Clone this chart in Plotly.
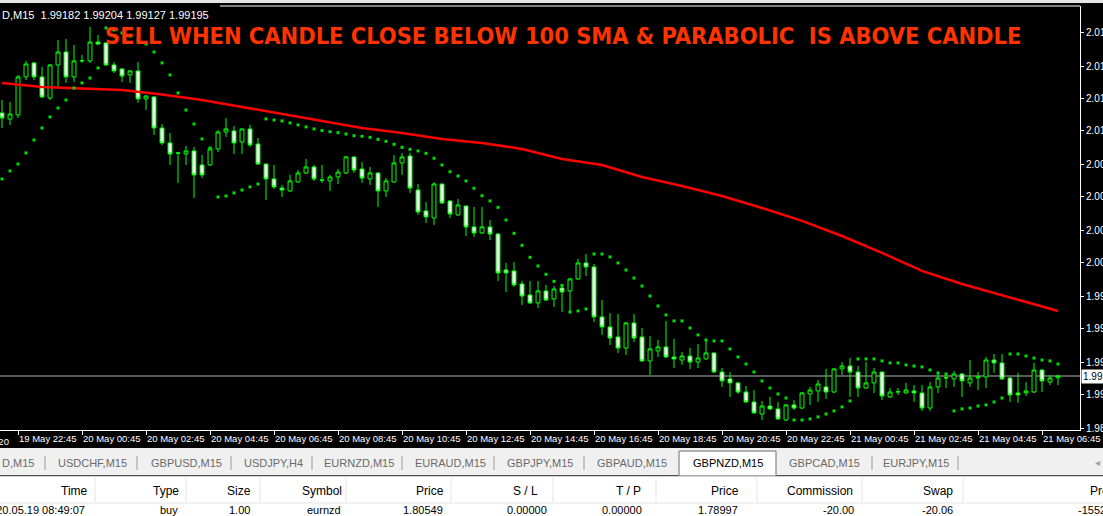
import plotly.graph_objects as go

# ---------------- data (GBPNZD, M15) ----------------
open_ = [
    2.01168, 2.01122, 2.01153, 2.01438, 2.01543, 2.01438, 2.01280, 2.01528, 2.01625, 2.01438,
    2.01558, 2.01558, 2.01700, 2.01693, 2.01528, 2.01498, 2.01453, 2.01483, 2.01273, 2.01288,
    2.01055, 2.00943, 2.00868, 2.00860, 2.00883, 2.00778, 2.00778, 2.00898, 2.01025, 2.01033,
    2.00950, 2.01048, 2.00935, 2.00785, 2.00673, 2.00605, 2.00583, 2.00650, 2.00718, 2.00763,
    2.00665, 2.00658, 2.00688, 2.00718, 2.00838, 2.00748, 2.00673, 2.00718, 2.00583, 2.00650,
    2.00793, 2.00845, 2.00590, 2.00433, 2.00380, 2.00635, 2.00508, 2.00403, 2.00470, 2.00313,
    2.00268, 2.00313, 2.00260, 1.99990, 1.99983, 1.99885, 1.99803, 1.99743, 1.99833, 1.99773,
    1.99855, 1.99833, 1.99923, 2.00043, 2.00013, 1.99638, 1.99563, 1.99488, 1.99405, 1.99593,
    1.99488, 1.99308, 1.99383, 1.99413, 1.99338, 1.99315, 1.99345, 1.99300, 1.99323, 1.99368,
    1.99225, 1.99173, 1.99143, 1.99075, 1.99000, 1.98910, 1.98970, 1.98948, 1.98865, 1.98978,
    1.98955, 1.99060, 1.99083, 1.99113, 1.99075, 1.99248, 1.99270, 1.99225, 1.99105, 1.99143,
    1.99225, 1.99038, 1.99075, 1.99068, 1.99083, 1.99068, 1.98955, 1.99113, 1.99180, 1.99173,
    1.99210, 1.99143, 1.99180, 1.99188, 1.99315, 1.99293, 1.99180, 1.99068, 1.99068, 1.99075,
    1.99240, 1.99150, 1.99182]
high = [
    2.01265, 2.01250, 2.01453, 2.01558, 2.01550, 2.01513, 2.01535, 2.01715, 2.01723, 2.01678,
    2.01603, 2.01813, 2.01753, 2.01695, 2.01550, 2.01505, 2.01490, 2.01550, 2.01303, 2.01295,
    2.01085, 2.01018, 2.00875, 2.00920, 2.00913, 2.00853, 2.00913, 2.01040, 2.01130, 2.01070,
    2.01050, 2.01078, 2.00980, 2.00788, 2.00778, 2.00628, 2.00703, 2.00740, 2.00823, 2.00778,
    2.00778, 2.00703, 2.00748, 2.00845, 2.00840, 2.00800, 2.00763, 2.00720, 2.00680, 2.00853,
    2.00868, 2.00870, 2.00635, 2.00500, 2.00650, 2.00637, 2.00510, 2.00523, 2.00472, 2.00463,
    2.00463, 2.00365, 2.00268, 2.00043, 2.00050, 1.99908, 1.99908, 1.99908, 1.99878, 1.99870,
    1.99885, 1.99930, 2.00073, 2.00110, 2.00035, 1.99765, 1.99668, 1.99660, 1.99600, 1.99660,
    1.99555, 1.99495, 1.99465, 1.99608, 1.99473, 1.99375, 1.99405, 1.99435, 1.99465, 1.99370,
    1.99255, 1.99225, 1.99150, 1.99120, 1.99090, 1.99008, 1.99038, 1.99000, 1.98985, 1.99015,
    1.99075, 1.99113, 1.99165, 1.99248, 1.99255, 1.99300, 1.99330, 1.99270, 1.99300, 1.99255,
    1.99228, 1.99105, 1.99105, 1.99143, 1.99128, 1.99128, 1.99150, 1.99225, 1.99218, 1.99233,
    1.99218, 1.99315, 1.99225, 1.99338, 1.99360, 1.99360, 1.99188, 1.99218, 1.99150, 1.99293,
    1.99248, 1.99203, 1.99204]
low = [
    2.01055, 2.01078, 2.01130, 2.01415, 2.01415, 2.01280, 2.01265, 2.01363, 2.01393, 2.01400,
    2.01543, 2.01543, 2.01678, 2.01520, 2.01468, 2.01400, 2.01393, 2.01243, 2.01190, 2.01003,
    2.00928, 2.00778, 2.00643, 2.00778, 2.00530, 2.00680, 2.00770, 2.00875, 2.00988, 2.00860,
    2.00860, 2.00913, 2.00778, 2.00515, 2.00598, 2.00538, 2.00575, 2.00643, 2.00710, 2.00658,
    2.00643, 2.00583, 2.00635, 2.00710, 2.00718, 2.00643, 2.00628, 2.00463, 2.00538, 2.00643,
    2.00703, 2.00568, 2.00403, 2.00343, 2.00328, 2.00485, 2.00380, 2.00395, 2.00245, 2.00238,
    2.00260, 2.00215, 1.99908, 1.99825, 1.99863, 1.99728, 1.99735, 1.99705, 1.99758, 1.99713,
    1.99675, 1.99675, 1.99915, 1.99945, 1.99600, 1.99503, 1.99428, 1.99368, 1.99353, 1.99450,
    1.99300, 1.99203, 1.99338, 1.99330, 1.99255, 1.99278, 1.99248, 1.99255, 1.99315, 1.99218,
    1.99113, 1.99038, 1.99060, 1.98993, 1.98910, 1.98865, 1.98940, 1.98865, 1.98858, 1.98940,
    1.98948, 1.98978, 1.99000, 1.99023, 1.99068, 1.99203, 1.99038, 1.99038, 1.99098, 1.99068,
    1.99015, 1.99030, 1.99053, 1.99060, 1.99000, 1.98933, 1.98933, 1.99068, 1.99105, 1.99113,
    1.99038, 1.99113, 1.99090, 1.99105, 1.99218, 1.99165, 1.99000, 1.98993, 1.99045, 1.99068,
    1.99075, 1.99128, 1.99127]
close = [
    2.01130, 2.01160, 2.01438, 2.01535, 2.01438, 2.01288, 2.01528, 2.01625, 2.01438, 2.01558,
    2.01560, 2.01700, 2.01685, 2.01528, 2.01483, 2.01445, 2.01483, 2.01273, 2.01295, 2.01055,
    2.00943, 2.00860, 2.00866, 2.00883, 2.00703, 2.00703, 2.00898, 2.01025, 2.01048, 2.00943,
    2.01048, 2.00928, 2.00785, 2.00673, 2.00613, 2.00590, 2.00658, 2.00718, 2.00763, 2.00673,
    2.00663, 2.00688, 2.00725, 2.00838, 2.00740, 2.00680, 2.00718, 2.00583, 2.00658, 2.00793,
    2.00838, 2.00605, 2.00425, 2.00388, 2.00635, 2.00493, 2.00410, 2.00478, 2.00313, 2.00268,
    2.00313, 2.00260, 1.99968, 1.99968, 1.99878, 1.99795, 1.99743, 1.99833, 1.99765, 1.99848,
    1.99825, 1.99923, 2.00043, 2.00013, 1.99638, 1.99563, 1.99480, 1.99405, 1.99593, 1.99480,
    1.99308, 1.99398, 1.99413, 1.99338, 1.99323, 1.99345, 1.99300, 1.99330, 1.99368, 1.99225,
    1.99158, 1.99143, 1.99075, 1.99000, 1.98918, 1.98970, 1.98948, 1.98873, 1.98978, 1.98955,
    1.99068, 1.99090, 1.99135, 1.99075, 1.99248, 1.99270, 1.99225, 1.99105, 1.99143, 1.99225,
    1.99045, 1.99075, 1.99077, 1.99090, 1.99068, 1.98955, 1.99113, 1.99180, 1.99182, 1.99210,
    1.99158, 1.99180, 1.99188, 1.99315, 1.99293, 1.99173, 1.99053, 1.99053, 1.99083, 1.99240,
    1.99158, 1.99180, 1.99195]
sar = [
    2.00673, 2.00733, 2.00785, 2.00868, 2.00965, 2.01055, 2.01138, 2.01205, 2.01265, 2.01355,
    2.01393, 2.01430, 2.01505, 2.01805, 2.01790, 2.01768, 2.01745, 2.01715, 2.01685, 2.01625,
    2.01543, 2.01453, 2.01318, 2.01190, 2.01085, 2.00973, 2.00905, 2.00538, 2.00545, 2.00568,
    2.00590, 2.00613, 2.00635, 2.01123, 2.01115, 2.01108, 2.01093, 2.01078, 2.01063, 2.01048,
    2.01036, 2.01027, 2.01020, 2.01010, 2.00997, 2.00993, 2.00985, 2.00970, 2.00955, 2.00933,
    2.00910, 2.00895, 2.00883, 2.00865, 2.00828, 2.00778, 2.00727, 2.00695, 2.00658, 2.00603,
    2.00547, 2.00508, 2.00460, 2.00365, 2.00265, 2.00175, 2.00085, 2.00020, 1.99958, 1.99905,
    1.99875, 1.99675, 1.99683, 1.99698, 2.00110, 2.00110, 2.00088, 2.00043, 1.99990, 1.99930,
    1.99870, 1.99795, 1.99720, 1.99653, 1.99608, 1.99608, 1.99555, 1.99503, 1.99465, 1.99458,
    1.99458, 1.99398, 1.99338, 1.99285, 1.99225, 1.99158, 1.99105, 1.99060, 1.99030, 1.98865,
    1.98865, 1.98873, 1.98888, 1.98910, 1.98933, 1.98963, 1.99008, 1.99323, 1.99323, 1.99323,
    1.99308, 1.99293, 1.99293, 1.99278, 1.99270, 1.99263, 1.99240, 1.99218, 1.99210, 1.98933,
    1.98948, 1.98955, 1.98970, 1.98978, 1.99000, 1.99030, 1.99360, 1.99360, 1.99345, 1.99330,
    1.99315, 1.99308, 1.99285]
sma_idx = [0, 5, 10, 15, 20, 25, 30, 35, 40, 45, 50, 55, 60, 65, 70, 75, 80, 85, 90, 95,
           100, 105, 110, 115, 120, 125, 130, 132]
sma100 = [2.01393, 2.01363, 2.01351, 2.01340, 2.01306, 2.01265, 2.01213, 2.01160, 2.01108,
          2.01055, 2.01018, 2.00973, 2.00943, 2.00898, 2.00823, 2.00778, 2.00688, 2.00620,
          2.00545, 2.00455, 2.00358, 2.00245, 2.00118, 1.99983, 1.99885, 1.99803, 1.99720,
          1.99683]
time_tick_idx = [2, 10, 18, 26, 34, 42, 50, 58, 66, 74, 82, 90, 98, 106, 114, 122, 130]
time_tick_text = ["19 May 22:45", "20 May 00:45", "20 May 02:45", "20 May 04:45",
                  "20 May 06:45", "20 May 08:45", "20 May 10:45", "20 May 12:45",
                  "20 May 14:45", "20 May 16:45", "20 May 18:45", "20 May 20:45",
                  "20 May 22:45", "21 May 00:45", "21 May 02:45", "21 May 04:45",
                  "21 May 06:45"]
price_ticks = [2.01768, 2.01520, 2.01273, 2.01033, 2.00785, 2.00538, 2.00290, 2.00043,
               1.99795, 1.99548, 1.99300, 1.99053, 1.98805]
tabs = ["D,M15", "USDCHF,M15", "GBPUSD,M15", "USDJPY,H4", "EURNZD,M15", "EURAUD,M15",
        "GBPJPY,M15", "GBPAUD,M15", "GBPNZD,M15", "GBPCAD,M15", "EURJPY,M15"]
table_headers = ["Time", "Type", "Size", "Symbol", "Price", "S / L", "T / P", "Price",
                 "Commission", "Swap", "Profit"]
table_row = ["2020.05.19 08:49:07", "buy", "1.00", "eurnzd", "1.80549", "0.00000",
             "0.00000", "1.78997", "-20.00", "-20.06", "-1552"]
title_text = "SELL WHEN CANDLE CLOSE BELOW 100 SMA &amp; PARABOLIC&nbsp; IS ABOVE CANDLE"

# ---------------- layout helpers (pixel -> paper) ----------------
PW, PT, PB = 1080, 6, 430
def px(x):
    return x / PW
def py(y):
    return (PB - y) / (PB - PT)

idx = list(range(len(close)))
LIME = "#00FF00"

fig = go.Figure()
fig.add_trace(go.Candlestick(
    x=idx, open=open_, high=high, low=low, close=close,
    increasing=dict(line=dict(color=LIME, width=1), fillcolor="#000000"),
    decreasing=dict(line=dict(color=LIME, width=1), fillcolor="#FFFFFF"),
    whiskerwidth=0, hoverinfo="skip", showlegend=False))
fig.add_trace(go.Scatter(
    x=sma_idx, y=sma100, mode="lines", line=dict(color="#FF0000", width=2.5),
    hoverinfo="skip", showlegend=False))
fig.add_trace(go.Scatter(
    x=idx, y=sar, mode="markers",
    marker=dict(symbol="square", size=3, color="#00E000", line=dict(width=0)),
    hoverinfo="skip", showlegend=False))

shapes = []
annotations = []

# bid line + price tag
shapes.append(dict(type="line", xref="paper", yref="y", x0=0, x1=1, y0=close[-1], y1=close[-1],
                   line=dict(color="#B4B4B4", width=1), layer="below"))
annotations.append(dict(xref="paper", yref="y", x=px(1081), y=close[-1], xanchor="left",
                        yanchor="middle", text=f"{close[-1]:.5f}", showarrow=False,
                        bgcolor="#FFFFFF", borderpad=1,
                        font=dict(color="#000000", size=10, family="Liberation Sans")))

# top strip and frame line
shapes.append(dict(type="rect", xref="paper", yref="paper", x0=px(0), x1=px(1103),
                   y0=py(3), y1=py(-2), fillcolor="#E6E6E6", line=dict(width=0), layer="above"))
shapes.append(dict(type="line", xref="paper", yref="paper", x0=px(220), x1=px(1080),
                   y0=py(6), y1=py(6), line=dict(color="#FFFFFF", width=1), layer="above"))

# OHLC header text
annotations.append(dict(xref="paper", yref="paper", x=px(0), y=py(15), xanchor="left",
                        yanchor="middle", showarrow=False,
                        text=f"D,M15&nbsp; {open_[-1]:.5f} {high[-1]:.5f} {low[-1]:.5f} {close[-1]:.5f}",
                        font=dict(color="#FFFFFF", size=11, family="Liberation Sans")))

# title
annotations.append(dict(xref="paper", yref="paper", x=px(563), y=py(36), xanchor="center",
                        yanchor="middle", showarrow=False, text=f"<b>{title_text}</b>",
                        font=dict(color="#FF3300", size=23.4,
                                  family="Liberation Sans Narrow, DejaVu Sans Condensed, sans-serif")))

# first (date) label of the time scale
annotations.append(dict(xref="paper", yref="paper", x=px(11), y=py(441), xanchor="right",
                        yanchor="middle", showarrow=False, text="19 May 2020",
                        font=dict(color="#FFFFFF", size=9.5, family="Liberation Sans")))

# ---------- tab bar ----------
shapes.append(dict(type="rect", xref="paper", yref="paper", x0=px(0), x1=px(1110),
                   y0=py(475), y1=py(448), fillcolor="#F0F0F0", line=dict(width=0), layer="above"))
shapes.append(dict(type="rect", xref="paper", yref="paper", x0=px(679), x1=px(776),
                   y0=py(476), y1=py(451), fillcolor="#FFFFFF",
                   line=dict(color="#6E6E6E", width=1), layer="above"))
tab_x = [0, 56, 149, 242, 322, 413, 505, 595, 691, 787, 881]
for name, xl in zip(tabs, tab_x):
    annotations.append(dict(xref="paper", yref="paper", x=px(xl), y=py(463), xanchor="left",
                            yanchor="middle", showarrow=False, text=name,
                            font=dict(color="#000000" if name == "GBPNZD,M15" else "#6A6A6A",
                                      size=11, family="Liberation Sans")))
for xs in [45, 137, 231, 312, 402, 494, 584, 872, 958]:
    shapes.append(dict(type="line", xref="paper", yref="paper", x0=px(xs), x1=px(xs),
                       y0=py(470), y1=py(456), line=dict(color="#9A9A9A", width=1), layer="above"))
annotations.append(dict(xref="paper", yref="paper", x=px(1097), y=py(463), xanchor="center",
                        yanchor="middle", showarrow=False, text="◂",
                        font=dict(color="#A0A0A0", size=10, family="DejaVu Sans")))

# ---------- terminal table ----------
shapes.append(dict(type="rect", xref="paper", yref="paper", x0=px(0), x1=px(1110),
                   y0=py(520), y1=py(476), fillcolor="#FFFFFF",
                   line=dict(width=0), layer="above"))
shapes.append(dict(type="line", xref="paper", yref="paper", x0=px(0), x1=px(1110),
                   y0=py(476), y1=py(476), line=dict(color="#A0A0A0", width=1), layer="above"))
shapes.append(dict(type="line", xref="paper", yref="paper", x0=px(0), x1=px(1110),
                   y0=py(503), y1=py(503), line=dict(color="#E3E3E3", width=1), layer="above"))
for xs in [95, 186, 260, 346, 451, 553, 656, 757, 862, 963]:
    shapes.append(dict(type="line", xref="paper", yref="paper", x0=px(xs), x1=px(xs),
                       y0=py(502), y1=py(478), line=dict(color="#E3E3E3", width=1), layer="above"))
head_right = [90, 181, 253, 344, 446, 540, 643, 741, 855, 955, None]
row_right = [87, 180, 252, 343, 445, 549, 644, 740, 856, 955, None]
for h, xr in zip(table_headers, head_right):
    if xr is None:
        annotations.append(dict(xref="paper", yref="paper", x=px(1088), y=py(491), xanchor="left",
                                yanchor="middle", showarrow=False, text=h,
                                font=dict(color="#000000", size=12, family="Liberation Sans")))
    else:
        annotations.append(dict(xref="paper", yref="paper", x=px(xr), y=py(491), xanchor="right",
                                yanchor="middle", showarrow=False, text=h,
                                font=dict(color="#000000", size=12, family="Liberation Sans")))
for v, xr in zip(table_row, row_right):
    if xr is None:
        annotations.append(dict(xref="paper", yref="paper", x=px(1076), y=py(510), xanchor="left",
                                yanchor="middle", showarrow=False, text=v,
                                font=dict(color="#000000", size=11, family="Liberation Sans")))
    else:
        annotations.append(dict(xref="paper", yref="paper", x=px(xr), y=py(510), xanchor="right",
                                yanchor="middle", showarrow=False, text=v,
                                font=dict(color="#000000", size=11, family="Liberation Sans")))

fig.update_layout(
    width=1103, height=516,
    margin=dict(l=0, r=23, t=6, b=86, pad=0, autoexpand=False),
    paper_bgcolor="#000000", plot_bgcolor="#000000",
    showlegend=False, hovermode=False,
    shapes=shapes, annotations=annotations,
    xaxis=dict(range=[-0.25, 134.75], tickmode="array", tickvals=time_tick_idx,
               ticktext=time_tick_text, ticks="outside", ticklen=4, tickcolor="#FFFFFF",
               ticklabelposition="outside right", tickangle=0, automargin=False,
               tickfont=dict(color="#FFFFFF", size=9.5, family="Liberation Sans"),
               showgrid=False, zeroline=False, showline=True, linecolor="#FFFFFF", linewidth=1,
               rangeslider=dict(visible=False), fixedrange=True),
    yaxis=dict(side="right", range=[1.98790, 2.01970], tickmode="array", tickvals=price_ticks,
               ticktext=[f"{v:.5f}" for v in price_ticks], ticks="outside", ticklen=3,
               automargin=False,
               tickcolor="#FFFFFF", tickfont=dict(color="#FFFFFF", size=10, family="Liberation Sans"),
               showgrid=False, zeroline=False, showline=True, linecolor="#FFFFFF", linewidth=1,
               fixedrange=True),
)

fig.write_html("out.html")
